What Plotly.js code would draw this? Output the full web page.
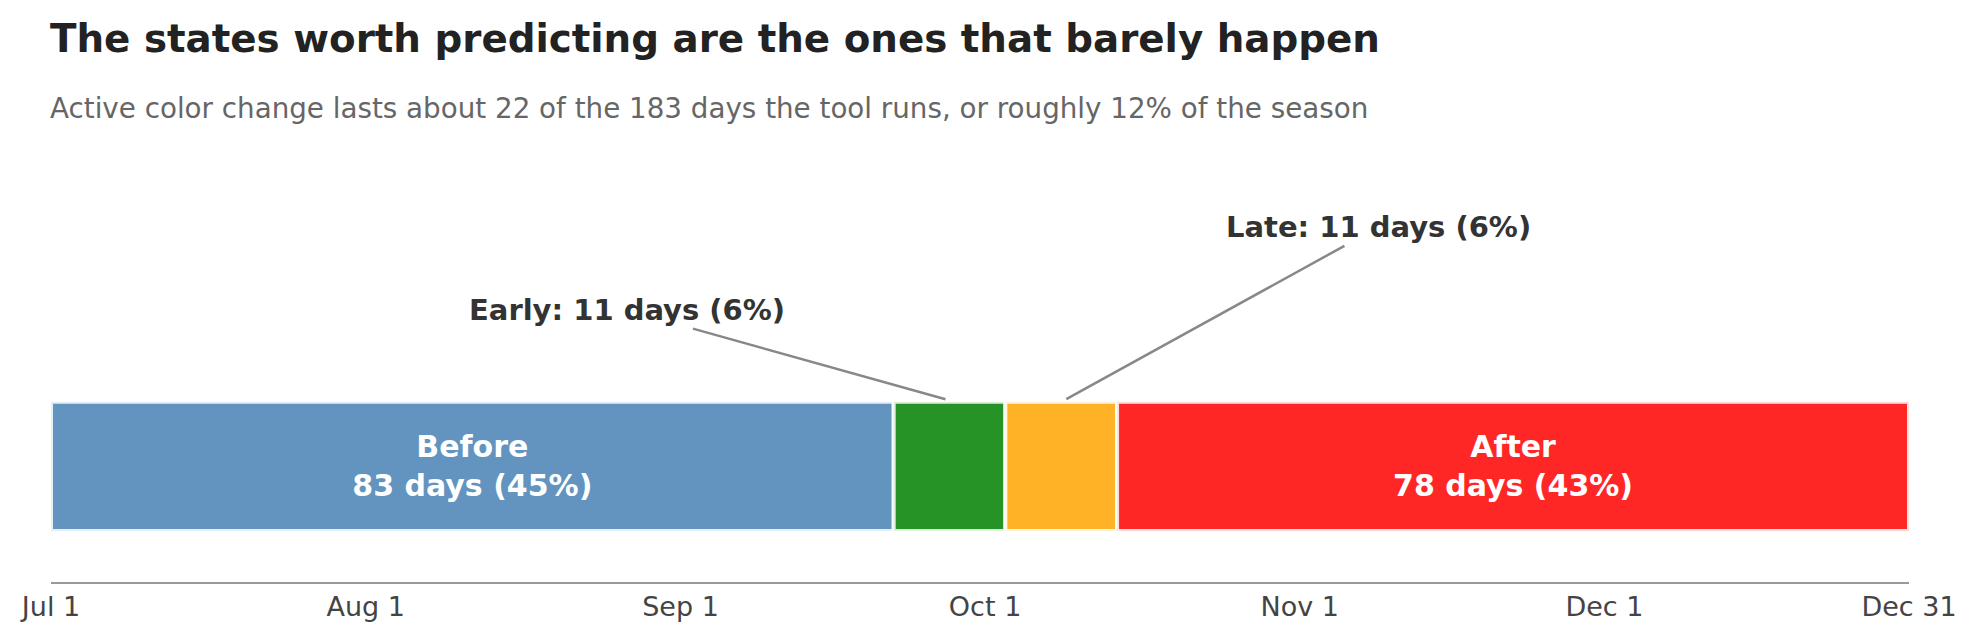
<!DOCTYPE html>
<html>
<head>
<meta charset="utf-8">
<script src="https://cdn.plot.ly/plotly-3.0.1.min.js"></script>
<style>
  html, body { margin: 0; padding: 0; background: #ffffff; }
  #chart { width: 1980px; height: 640px; }
</style>
</head>
<body>
<div id="chart"></div>
<script>
// ---- data ----
const phases = ['Before', 'Early', 'Late', 'After'];
const phaseDays = [83, 11, 11, 78];
const phaseColors = ['#6294BF', '#269326', '#FFB226', '#FF2626'];
const tickOffsets = [0, 31, 62, 92, 123, 153, 183];
const tickLabels = ['Jul 1', 'Aug 1', 'Sep 1', 'Oct 1', 'Nov 1', 'Dec 1', 'Dec 31'];
const seasonDays = 183;

const titleText = 'The states worth predicting are the ones that barely happen';
const subtitleText = 'Active color change lasts about 22 of the 183 days the tool runs, or roughly 12% of the season';

// ---- build ----
const FONT = 'DejaVu Sans, Verdana, sans-serif';
const total = phaseDays.reduce((a, b) => a + b, 0);
const starts = [];
let acc = 0;
phaseDays.forEach(d => { starts.push(acc); acc += d; });
const pct = phaseDays.map(d => Math.round(d / total * 100));

const traces = phases.map((p, i) => ({
  type: 'bar',
  orientation: 'h',
  y: [0],
  x: [phaseDays[i]],
  base: [starts[i]],
  width: 0.826,
  name: p,
  marker: { color: phaseColors[i], line: { color: 'rgba(255,255,255,0.85)', width: 4 } },
  text: (p === 'Before' || p === 'After') ? [p + '<br>' + phaseDays[i] + ' days (' + pct[i] + '%)'] : [''],
  textposition: 'inside',
  insidetextanchor: 'middle',
  textangle: 0,
  textfont: { family: FONT, size: 30, color: '#ffffff', weight: 'bold' },
  hoverinfo: 'skip',
  showlegend: false
}));

const barTop = 0.4;
const earlyIdx = 1, lateIdx = 2;

const annotations = [
  {
    xref: 'paper', yref: 'paper', x: -3 / 1858.5, xanchor: 'left',
    y: (582 - 108.6) / 432, yanchor: 'middle',
    text: subtitleText, showarrow: false,
    font: { family: FONT, size: 27.75, color: '#666666' }
  },
  {
    x: starts[earlyIdx] + phaseDays[earlyIdx] / 2 - 0.4, y: barTop + 0.03,
    xref: 'x', yref: 'y', axref: 'x', ayref: 'y',
    ax: 56.7, ay: 1.0,
    text: phases[earlyIdx] + ': ' + phaseDays[earlyIdx] + ' days (' + pct[earlyIdx] + '%)',
    showarrow: true, arrowhead: 0, arrowwidth: 2.5, arrowcolor: '#888888', standoff: 0,
    font: { family: FONT, size: 29, color: '#333333', weight: 'bold' }
  },
  {
    x: starts[lateIdx] + phaseDays[lateIdx] / 2 + 0.5, y: barTop + 0.03,
    xref: 'x', yref: 'y', axref: 'x', ayref: 'y',
    ax: 130.7, ay: 1.53,
    text: phases[lateIdx] + ': ' + phaseDays[lateIdx] + ' days (' + pct[lateIdx] + '%)',
    showarrow: true, arrowhead: 0, arrowwidth: 2.5, arrowcolor: '#888888', standoff: 0,
    font: { family: FONT, size: 29, color: '#333333', weight: 'bold' }
  }
];

const layout = {
  width: 1980, height: 640,
  margin: { l: 50.5, r: 71, t: 150, b: 58, pad: 0 },
  paper_bgcolor: '#ffffff', plot_bgcolor: '#ffffff',
  barmode: 'overlay',
  title: {
    text: titleText,
    xref: 'container', x: 50 / 1980, xanchor: 'left',
    yref: 'container', y: 1 - 38 / 640, yanchor: 'middle',
    font: { family: FONT, size: 38.8, color: '#222222', weight: 'bold' }
  },
  xaxis: {
    range: [0, seasonDays],
    tickmode: 'array', tickvals: tickOffsets, ticktext: tickLabels,
    showgrid: false, zeroline: false,
    showline: true, linecolor: '#999999', linewidth: 2,
    ticks: '', ticklabelstandoff: 0,
    tickfont: { family: FONT, size: 27, color: '#444444' },
    fixedrange: true
  },
  yaxis: {
    range: [-0.74, 2.025],
    showgrid: false, zeroline: false, showline: false,
    showticklabels: false, ticks: '',
    fixedrange: true
  },
  annotations: annotations,
  showlegend: false
};

Plotly.newPlot('chart', traces, layout, { displayModeBar: false, staticPlot: true });
</script>
</body>
</html>
